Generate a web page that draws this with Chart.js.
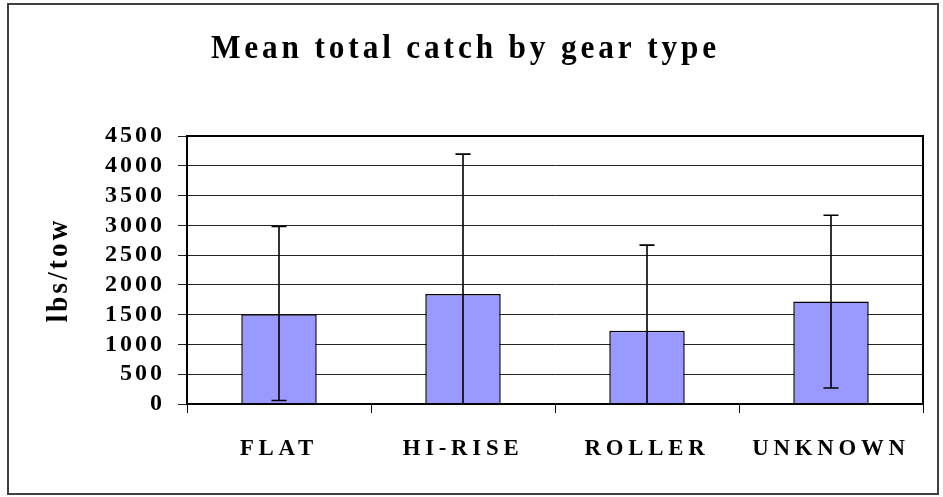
<!DOCTYPE html>
<html>
<head>
<meta charset="utf-8">
<script src="https://cdn.jsdelivr.net/npm/chart.js@4.4.1/dist/chart.umd.min.js"></script>
<style>
  html, body { margin: 0; padding: 0; background: #ffffff; }
  #wrap { width: 943px; height: 497px; position: relative; }
</style>
</head>
<body>
<div id="wrap"><canvas id="c" width="943" height="497"></canvas></div>
<script>
// ---- data ----
const categories = ['FLAT', 'HI-RISE', 'ROLLER', 'UNKNOWN'];
const meanCatch = [1505, 1845, 1230, 1722];
const sdPlus = [1475, 2350, 1438, 1448];
const sdMinus = [1445, 2350, 1438, 1454];
const yTicks = [0, 500, 1000, 1500, 2000, 2500, 3000, 3500, 4000, 4500];
const chartTitle = 'Mean total catch by gear type';
const yTitle = 'lbs/tow';

const SERIF = "'Liberation Serif', 'Times New Roman', serif";

// draw text of a chart element with letter spacing and horizontal condensing
function styleText(obj, method, spacing, sx) {
  const orig = obj[method];
  obj[method] = function (...args) {
    const ctx = this.ctx;
    const prevLS = ctx.letterSpacing;
    const origFill = ctx.fillText;
    ctx.letterSpacing = spacing;
    if (sx !== 1) {
      ctx.fillText = function (t, x, y) {
        this.save();
        this.translate(x, y);
        this.scale(sx, 1);
        origFill.call(this, t, 0, 0);
        this.restore();
      };
    }
    const r = orig.apply(this, args);
    delete ctx.fillText;
    if (ctx.fillText !== origFill) ctx.fillText = origFill;
    ctx.letterSpacing = prevLS;
    return r;
  };
}

const textStylePlugin = {
  id: 'textStyle',
  afterLayout(chart) {
    if (chart.$styled) return;
    chart.$styled = true;
    styleText(chart.scales.x, 'drawLabels', '5px', 0.95);
    styleText(chart.scales.y, 'drawLabels', '3px', 1);
    styleText(chart.scales.y, 'drawTitle', '3.5px', 0.9);
    if (chart.titleBlock) styleText(chart.titleBlock, 'draw', '4.2px', 0.92);
  }
};

const framePlugin = {
  id: 'frame',
  beforeDraw(chart) {
    const ctx = chart.ctx;
    ctx.save();
    ctx.fillStyle = '#ffffff';
    ctx.fillRect(0, 0, chart.width, chart.height);
    ctx.strokeStyle = '#404040';
    ctx.lineWidth = 2;
    ctx.strokeRect(8, 4, 930, 490);
    ctx.restore();
  },
  afterDraw(chart) {
    const a = chart.chartArea;
    const ctx = chart.ctx;
    ctx.save();
    ctx.strokeStyle = '#000';
    ctx.lineWidth = 2;
    ctx.strokeRect(a.left, a.top, a.right - a.left, a.bottom - a.top);
    ctx.restore();
  }
};

const errorBarPlugin = {
  id: 'errorBars',
  afterDatasetsDraw(chart) {
    const ctx = chart.ctx;
    const y = chart.scales.y;
    const meta = chart.getDatasetMeta(0);
    const a = chart.chartArea;
    ctx.save();
    ctx.beginPath();
    ctx.rect(a.left, a.top - 1, a.right - a.left, a.bottom - a.top + 1);
    ctx.clip();
    ctx.strokeStyle = '#000';
    ctx.lineWidth = 1.6;
    meta.data.forEach((bar, i) => {
      const x = bar.x;
      const yHi = y.getPixelForValue(meanCatch[i] + sdPlus[i]);
      const yLo = y.getPixelForValue(meanCatch[i] - sdMinus[i]);
      ctx.beginPath();
      ctx.moveTo(x, yHi); ctx.lineTo(x, yLo);
      ctx.moveTo(x - 7.5, yHi); ctx.lineTo(x + 7.5, yHi);
      ctx.moveTo(x - 7.5, yLo); ctx.lineTo(x + 7.5, yLo);
      ctx.stroke();
    });
    ctx.restore();
  }
};

new Chart(document.getElementById('c'), {
  type: 'bar',
  data: {
    labels: categories,
    datasets: [{
      data: meanCatch,
      backgroundColor: '#9999ff',
      borderColor: '#000000',
      borderWidth: 1.5,
      barPercentage: 0.41,
      categoryPercentage: 1.0
    }]
  },
  options: {
    responsive: false,
    animation: false,
    events: [],
    layout: { padding: { left: 8, right: 20, top: 0, bottom: 3 } },
    plugins: {
      legend: { display: false },
      tooltip: { enabled: false },
      title: {
        display: true,
        text: chartTitle,
        color: '#000',
        font: { family: SERIF, size: 34, weight: 'bold', lineHeight: 1.2 },
        padding: { top: 28.8, bottom: 66.4 }
      }
    },
    scales: {
      x: {
        grid: { display: true, drawOnChartArea: false, drawTicks: true, tickLength: 9, color: '#000', lineWidth: 1, offset: true },
        border: { display: true, color: '#000', width: 2 },
        ticks: { color: '#000', font: { family: SERIF, size: 24, weight: 'bold' }, padding: 21, maxRotation: 0, autoSkip: false },
        afterFit(s) { s.height = 90; }
      },
      y: {
        min: 0,
        max: 4500,
        afterBuildTicks(s) { s.ticks = yTicks.map(v => ({ value: v })); },
        grid: { color: '#222', lineWidth: 1, drawTicks: true, tickLength: 9 },
        border: { display: true, color: '#000', width: 2 },
        ticks: {
          color: '#000',
          font: { family: SERIF, size: 24, weight: 'bold', lineHeight: 1.0 },
          padding: 13,
          autoSkip: false,
          callback: (v) => String(v)
        },
        title: {
          display: true,
          text: yTitle,
          color: '#000',
          font: { family: SERIF, size: 30, weight: 'bold', lineHeight: 1.2 },
          padding: { top: 33, bottom: 0 }
        },
        afterFit(s) { s.width = 179; }
      }
    }
  },
  plugins: [textStylePlugin, framePlugin, errorBarPlugin]
});
</script>
</body>
</html>
